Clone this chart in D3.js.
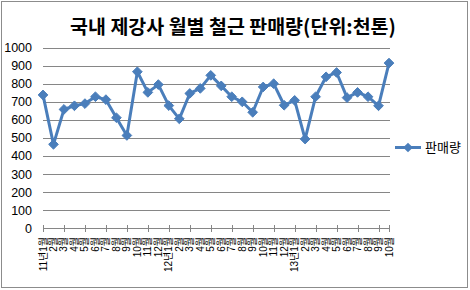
<!DOCTYPE html>
<html><head><meta charset="utf-8">
<script src="https://cdn.jsdelivr.net/npm/d3@7"></script>
<style>body{margin:0;background:#fff}svg{display:block}</style>
</head><body>
<svg id="c" width="470" height="290"></svg>
<script>
const title = "국내 제강사 월별 철근 판매량(단위:천톤)";
const seriesName = "판매량";
const categories = ["11년1월","2월","3월","4월","5월","6월","7월","8월","9월","10월","11월","12월",
  "12년1월","2월","3월","4월","5월","6월","7월","8월","9월","10월","11월","12월",
  "13년1월","2월","3월","4월","5월","6월","7월","8월","9월","10월"];
const values = [738,465,658,678,690,728,712,612,514,866,752,795,
  679,606,746,774,846,788,728,700,642,782,800,681,
  708,494,728,838,862,723,752,728,678,914];
const yTicks = [0,100,200,300,400,500,600,700,800,900,1000];

const svg = d3.select("#c");
const font = "'Liberation Sans','Noto Sans CJK KR',Arial,sans-serif";
const kfont = "'Noto Sans CJK KR','Liberation Sans',sans-serif";

svg.append("rect").attr("x",1.5).attr("y",1.5).attr("width",466).attr("height",286)
  .attr("fill","#fff").attr("stroke","#8c8c8c").attr("stroke-width",1);

svg.append("text").attr("x",233).attr("y",34).attr("text-anchor","middle")
  .attr("font-family",kfont).attr("font-weight","bold").attr("font-size",19.5)
  .attr("fill","#000").text(title);

const x = d3.scalePoint().domain(d3.range(categories.length)).range([43,389]);
const y = d3.scaleLinear().domain([0,1000]).range([228.5,47.5]);

// gridlines
svg.append("g").selectAll("line").data(yTicks.filter(d=>d>0)).join("line")
  .attr("x1",43).attr("x2",390).attr("y1",d=>Math.round(y(d))+0.5).attr("y2",d=>Math.round(y(d))+0.5)
  .attr("stroke","#868686").attr("stroke-width",1);

// y labels
svg.append("g").selectAll("text").data(yTicks).join("text")
  .attr("x",32).attr("y",d=>y(d)).attr("dy","0.35em").attr("text-anchor","end")
  .attr("font-family",font).attr("font-size",12.5).attr("fill","#000").text(d=>d);

// x axis
const xa = svg.append("g");
xa.append("line").attr("x1",43).attr("x2",390).attr("y1",228.5).attr("y2",228.5).attr("stroke","#868686");
xa.selectAll("line.t").data(d3.range(0,categories.length,2)).join("line").attr("class","t")
  .attr("x1",d=>Math.round(x(d))+0.5).attr("x2",d=>Math.round(x(d))+0.5)
  .attr("y1",225).attr("y2",232).attr("stroke","#868686");
xa.append("line").attr("x1",389.5).attr("x2",389.5).attr("y1",225).attr("y2",232).attr("stroke","#868686");
xa.selectAll("text").data(categories).join("text")
  .attr("transform",(d,i)=>`translate(${x(i)},237) rotate(-90)`)
  .attr("dy","0.35em").attr("text-anchor","end")
  .attr("font-family",font).attr("font-size",10).attr("fill","#000").text(d=>d);

// line
const color = "#4a7ebb";
svg.append("path").datum(values)
  .attr("d", d3.line().x((d,i)=>x(i)).y(d=>y(d)))
  .attr("fill","none").attr("stroke",color).attr("stroke-width",3).attr("stroke-linejoin","round");
const diamond = d3.symbol().type(d3.symbolDiamond2).size(60);
svg.append("g").selectAll("path").data(values).join("path")
  .attr("transform",(d,i)=>`translate(${x(i)},${y(d)})`)
  .attr("d",diamond()).attr("fill",color).attr("stroke",color).attr("stroke-width",1);

// legend
const lg = svg.append("g");
lg.append("line").attr("x1",395).attr("x2",421).attr("y1",147.5).attr("y2",147.5)
  .attr("stroke",color).attr("stroke-width",3);
lg.append("path").attr("transform","translate(408,147.5)").attr("d",diamond()).attr("fill",color);
lg.append("text").attr("x",425).attr("y",147.5).attr("dy","0.35em")
  .attr("font-family",kfont).attr("font-size",13).attr("fill","#000").text(seriesName);
</script>
</body></html>
